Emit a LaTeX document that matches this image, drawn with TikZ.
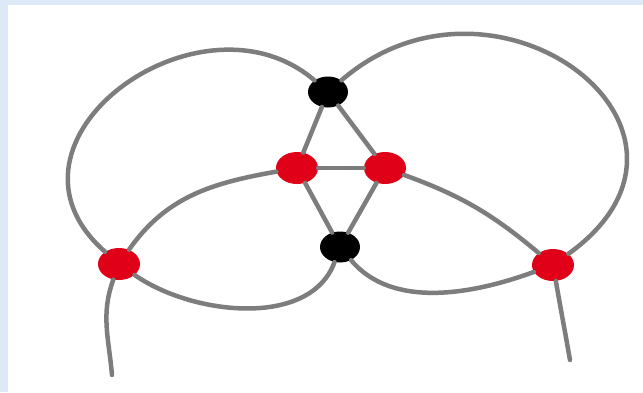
\documentclass[tikz,border=0pt]{standalone}
\usepackage{xcolor}
\usepackage{tikz}
\usetikzlibrary{shapes.geometric}

\definecolor{frameblue}{RGB}{221,233,247}
\definecolor{wiregray}{RGB}{125,125,125}
\definecolor{dotred}{RGB}{224,0,24}

\begin{document}
\begin{tikzpicture}[x=1pt,y=1pt]
      \tikzstyle{blackdot} = [ellipse, minimum width=40pt, minimum height=31pt, inner sep=0pt, fill=black]
      \tikzstyle{reddot} = [ellipse, minimum width=42pt, minimum height=32pt, inner sep=0pt, fill=dotred]
      \tikzstyle{wire} = [line width=4.5pt, draw=wiregray, line cap=round]

      \useasboundingbox (0,0) rectangle (643,392);
      \fill[white] (0,0) rectangle (643,392);
      \fill[frameblue] (0,0) rectangle (8,392);
      \fill[frameblue] (0,387) rectangle (643,392);

      \node (topblack) [blackdot] at (328,300) {};
      \node (lowblack) [blackdot] at (340,145) {};
      \node (innerleft) [reddot] at (297,224) {};
      \node (innerright) [reddot] at (385,224) {};
      \node (outerleft) [reddot] at (119,128) {};
      \node (outerright) [reddot] at (553,127) {};
      \coordinate (tailleft) at (112,17);
      \coordinate (tailright) at (570,32);

      % the two big loops
      \draw [wire] (topblack) .. controls (200,410) and (-20,250) .. (outerleft);
      \draw [wire] (topblack) .. controls (495,445) and (740,262) .. (outerright);

      % the small diamond in the middle
      \draw [wire] (topblack) -- (innerleft);
      \draw [wire] (topblack) -- (innerright);
      \draw [wire] (innerleft) -- (innerright);
      \draw [wire] (innerleft) -- (lowblack);
      \draw [wire] (innerright) -- (lowblack);

      % arcs out to the red dots at the sides
      \draw [wire] (innerleft) to[out=190, in=55] (outerleft);
      \draw [wire] (innerright) to[out=-20, in=140] (outerright);
      \draw [wire] (outerleft) to[out=-35, in=-110, looseness=0.9] (lowblack);
      \draw [wire] (lowblack) to[out=-50, in=-160, looseness=0.9] (outerright);

      % loose ends
      \draw [wire] (outerleft) to[out=-110, in=95] (tailleft);
      \draw [wire] (outerright) to[out=-80, in=100] (tailright);
    \end{tikzpicture}
\end{document}
